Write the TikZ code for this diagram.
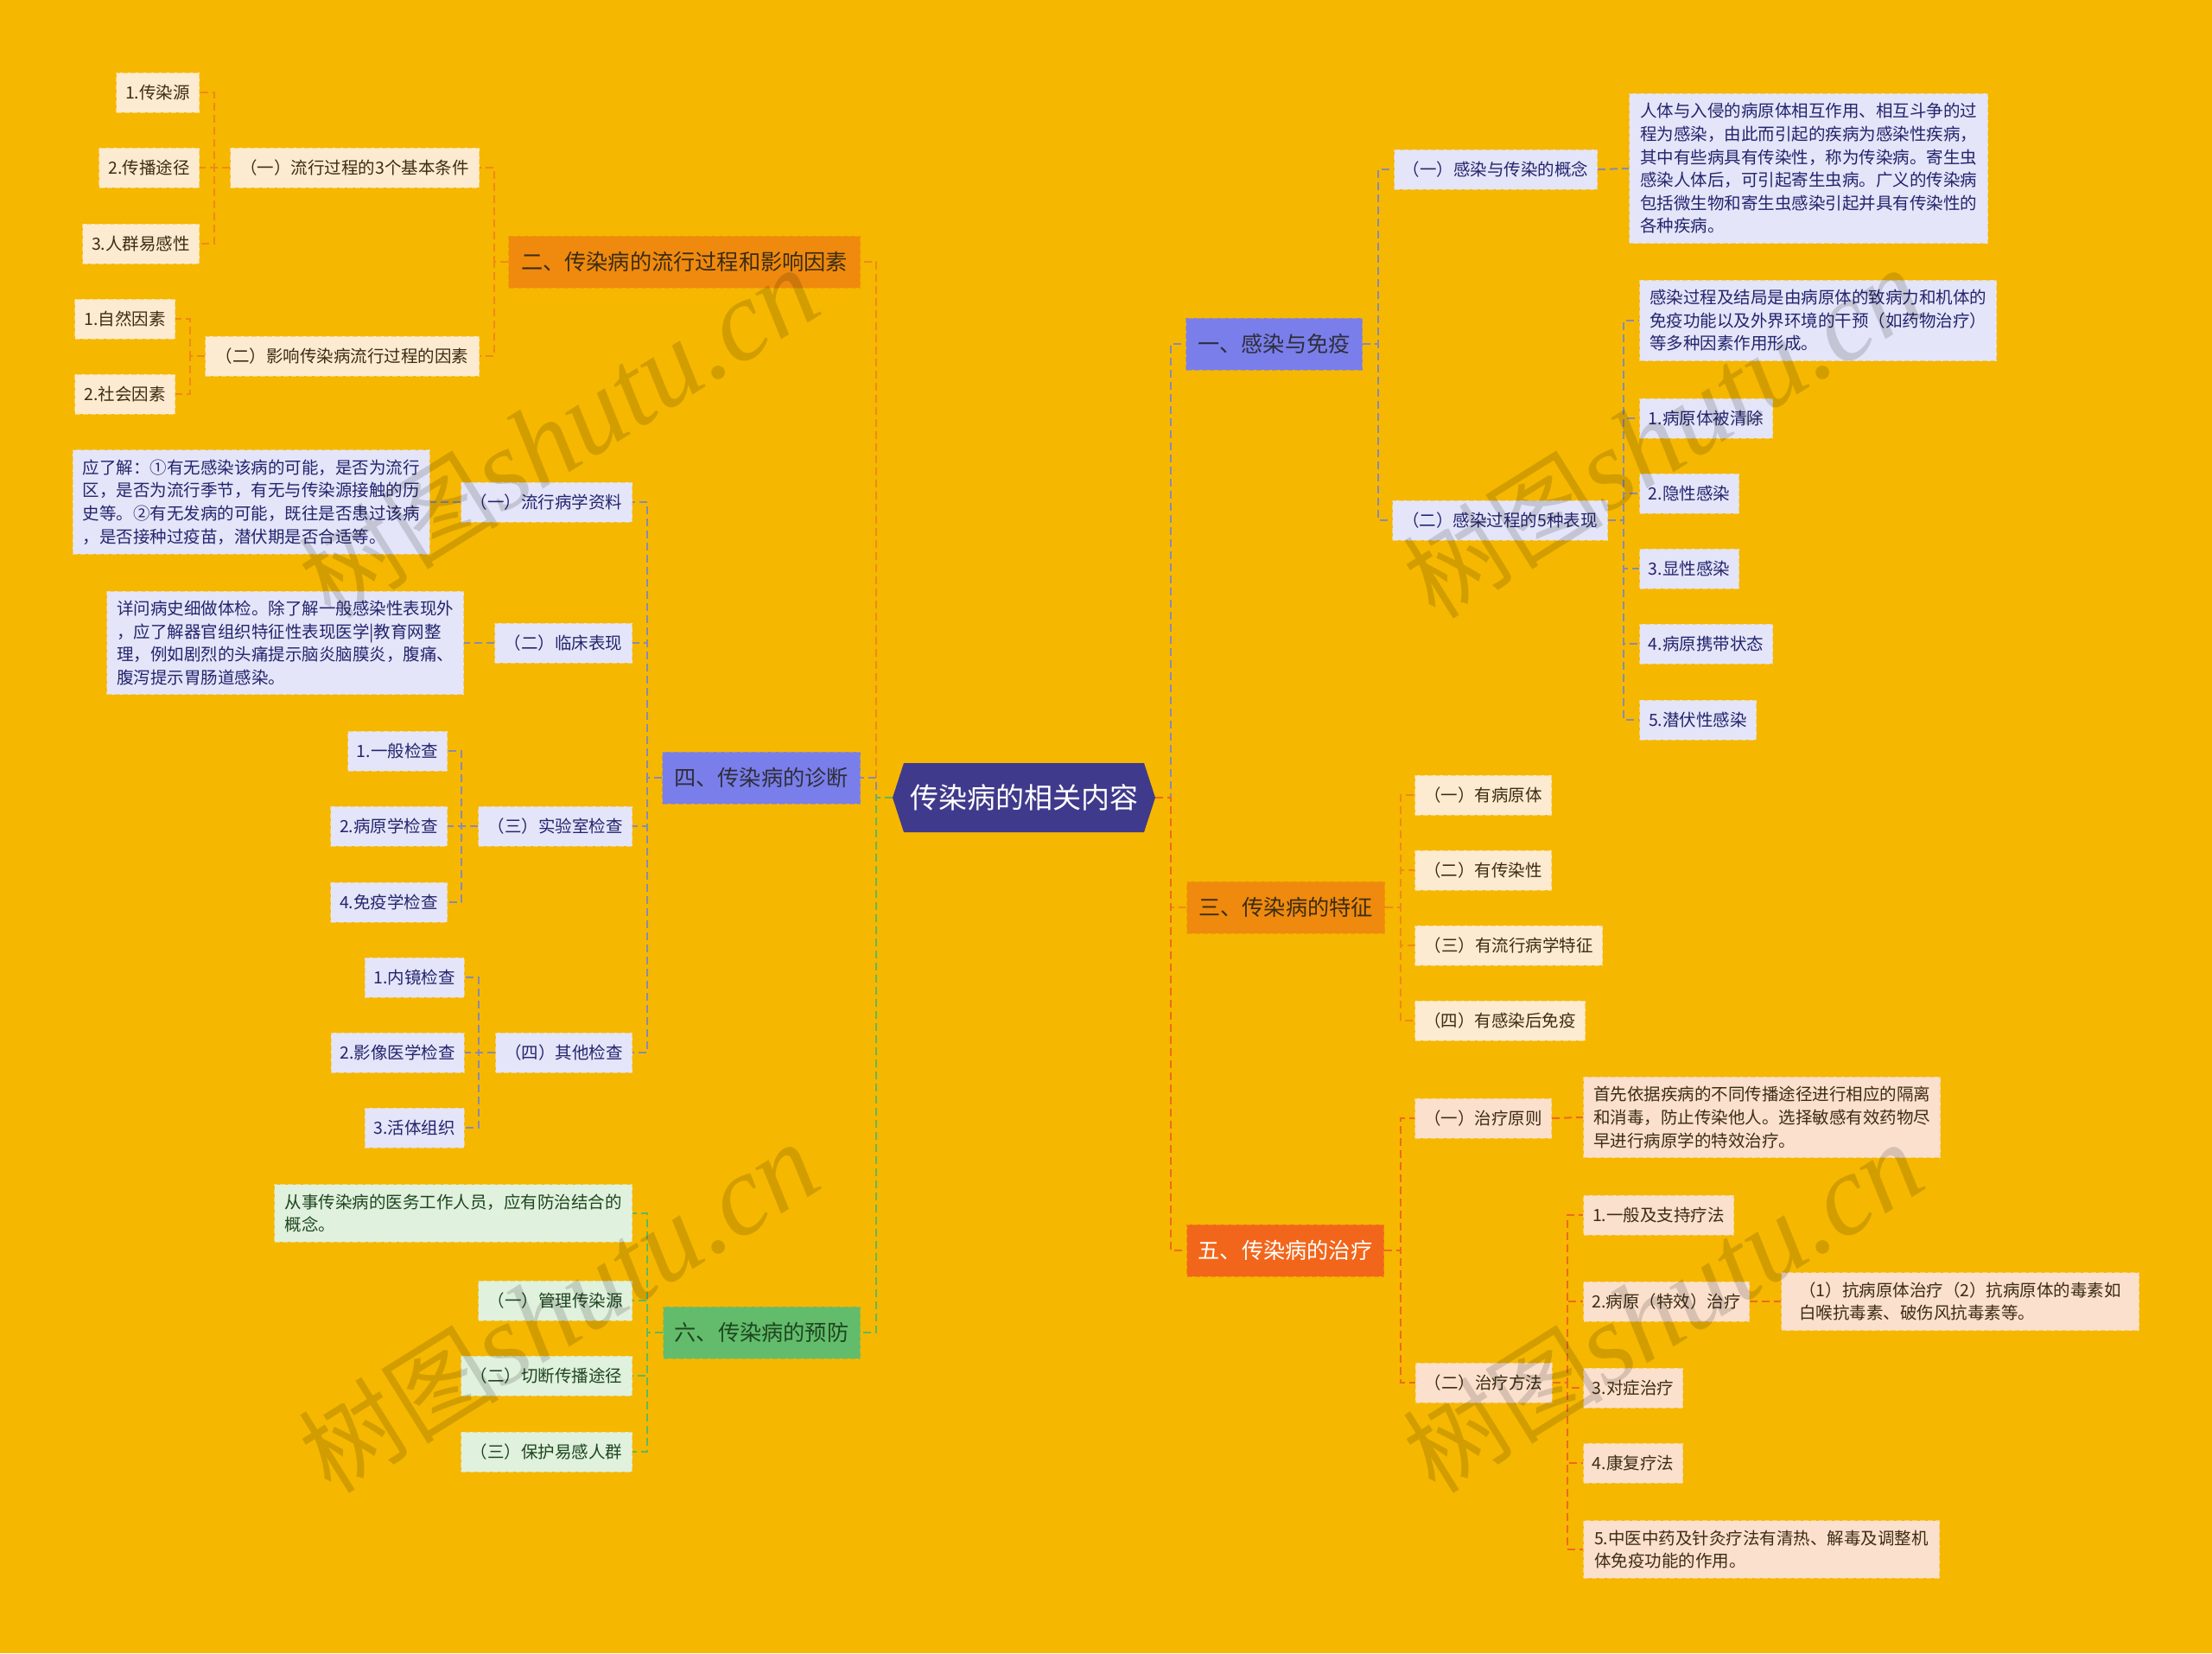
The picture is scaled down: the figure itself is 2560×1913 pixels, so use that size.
\documentclass[tikz,border=0pt]{standalone}
\usepackage{fontspec}
\setmainfont{Noto Sans CJK SC}
\newfontfamily\wmlatin{Liberation Serif}
\usetikzlibrary{calc}
\definecolor{bgc}{HTML}{F5B700}
\definecolor{cfill}{HTML}{403A8C}
\definecolor{fMO}{HTML}{EF8A0E}
\definecolor{fMB}{HTML}{7A7EEA}
\definecolor{fMG}{HTML}{63BC6B}
\definecolor{fMR}{HTML}{F2661B}
\definecolor{fO}{HTML}{FCEBD1}
\definecolor{fB}{HTML}{E4E5F8}
\definecolor{fG}{HTML}{E0F1DD}
\definecolor{fR}{HTML}{FBE0CD}
\definecolor{tO}{HTML}{3C2C12}
\definecolor{tB}{HTML}{24246E}
\definecolor{tG}{HTML}{1E4620}
\definecolor{tM}{HTML}{2E2E3A}
\definecolor{lnO}{HTML}{EF8A18}
\definecolor{lnB}{HTML}{8A8AAE}
\definecolor{lnR}{HTML}{EE6A1E}
\definecolor{lnG}{HTML}{62B85C}
\tikzset{
  edgedash/.style={dash pattern=on 3pt off 1.5pt, line width=0.5pt},
  leaf/.style={rectangle, inner xsep=5pt, inner ysep=0pt, minimum height=23pt,
    font=\fontsize{9.75}{13.3}\selectfont, edgedash},
  txtbox/.style={rectangle, inner xsep=5pt, inner ysep=5.5pt, align=left,
    font=\fontsize{9.75}{13.3}\selectfont, edgedash},
  mainbox/.style={rectangle, inner xsep=6.5pt, inner ysep=0pt, minimum height=30pt,
    font=\fontsize{12.6}{15}\selectfont, edgedash},
  famMO/.style={fill=fMO, draw=fMO!55!bgc, text=tO},
  famMB/.style={fill=fMB, draw=fMB!55!bgc, text=tM},
  famMG/.style={fill=fMG, draw=fMG!55!bgc, text=tG},
  famMR/.style={fill=fMR, draw=fMR!55!bgc, text=white},
  famO/.style={fill=fO, draw=fO!55!bgc, text=tO},
  famB/.style={fill=fB, draw=fB!55!bgc, text=tB},
  famG/.style={fill=fG, draw=fG!55!bgc, text=tG},
  famR/.style={fill=fR, draw=fR!55!bgc, text=tO},
  conn/.style={line width=1pt, dash pattern=on 4.5pt off 2.5pt},
  rootbox/.style={rectangle, inner sep=0pt, minimum width=152pt, minimum height=40pt,
    text=white, font=\fontsize{16.5}{18}\selectfont},
  wm/.style={text=black, text opacity=0.14, inner sep=0pt}
}
\begin{document}
\begin{tikzpicture}[x=0.5pt,y=-0.5pt]
\useasboundingbox (0,0) rectangle (2560,1913);
\fill[bgc] (0,0) rectangle (2560,1913);

% root
\fill[cfill] (1033,923) -- (1046,883) -- (1324,883) -- (1337,923) -- (1324,963) -- (1046,963) -- cycle;
\node[rootbox] (root) at (1185,923) {传染病的相关内容};

% main branches
\node[mainbox,famMO,anchor=east,minimum width=203.5pt] (m2) at (996,303) {二、传染病的流行过程和影响因素};
\node[mainbox,famMB,anchor=east,minimum width=114.5pt] (m4) at (996,900) {四、传染病的诊断};
\node[mainbox,famMG,anchor=east,minimum width=114pt] (m6) at (996,1542) {六、传染病的预防};
\node[mainbox,famMB,anchor=west,minimum width=102pt] (m1) at (1372,398) {一、感染与免疫};
\node[mainbox,famMO,anchor=west,minimum width=114.5pt] (m3) at (1373,1050) {三、传染病的特征};
\node[mainbox,famMR,anchor=west,minimum width=114pt] (m5) at (1373,1447) {五、传染病的治疗};

% group 二
\node[leaf,famO,anchor=east,minimum width=144pt] (a1) at (555,194) {（一）流行过程的3个基本条件};
\node[leaf,famO,anchor=east,minimum width=158.5pt] (a2) at (555,412) {（二）影响传染病流行过程的因素};
\node[leaf,famO,anchor=east,minimum width=48pt] (a11) at (231,107) {1.传染源};
\node[leaf,famO,anchor=east,minimum width=58pt] (a12) at (231,194) {2.传播途径};
\node[leaf,famO,anchor=east,minimum width=67.5pt] (a13) at (231,282) {3.人群易感性};
\node[leaf,famO,anchor=east,minimum width=58pt] (a21) at (203,369) {1.自然因素};
\node[leaf,famO,anchor=east,minimum width=58pt] (a22) at (203,456) {2.社会因素};

% group 四
\node[leaf,famB,anchor=east,minimum width=99pt] (b1) at (732,581) {（一）流行病学资料};
\node[txtbox,famB,anchor=east,minimum width=206.5pt] (b1t) at (497.5,581) {应了解：①有无感染该病的可能，是否为流行\\区，是否为流行季节，有无与传染源接触的历\\史等。②有无发病的可能，既往是否患过该病\\，是否接种过疫苗，潜伏期是否合适等。};
\node[leaf,famB,anchor=east,minimum width=79.5pt] (b2) at (732,744) {（二）临床表现};
\node[txtbox,famB,anchor=east,minimum width=206.5pt] (b2t) at (537,744) {详问病史细做体检。除了解一般感染性表现外\\，应了解器官组织特征性表现医学|教育网整\\理，例如剧烈的头痛提示脑炎脑膜炎，腹痛、\\腹泻提示胃肠道感染。};
\node[leaf,famB,anchor=east,minimum width=89pt] (b3) at (732,956) {（三）实验室检查};
\node[leaf,famB,anchor=east,minimum width=57.5pt] (b31) at (518,869) {1.一般检查};
\node[leaf,famB,anchor=east,minimum width=67.5pt] (b32) at (518,956) {2.病原学检查};
\node[leaf,famB,anchor=east,minimum width=67.5pt] (b34) at (518,1044) {4.免疫学检查};
\node[leaf,famB,anchor=east,minimum width=79pt] (b4) at (732,1218) {（四）其他检查};
\node[leaf,famB,anchor=east,minimum width=57.5pt] (b41) at (537.5,1131) {1.内镜检查};
\node[leaf,famB,anchor=east,minimum width=77pt] (b42) at (537.5,1218) {2.影像医学检查};
\node[leaf,famB,anchor=east,minimum width=57.5pt] (b43) at (537.5,1305) {3.活体组织};

% group 六
\node[txtbox,famG,anchor=east,minimum width=207pt] (c0) at (732,1404) {从事传染病的医务工作人员，应有防治结合的\\概念。};
\node[leaf,famG,anchor=east,minimum width=89pt] (c1) at (732,1505) {（一）管理传染源};
\node[leaf,famG,anchor=east,minimum width=99pt] (c2) at (732,1592) {（二）切断传播途径};
\node[leaf,famG,anchor=east,minimum width=99pt] (c3) at (732,1680) {（三）保护易感人群};

% group 一
\node[leaf,famB,anchor=west,minimum width=117.5pt] (d1) at (1613,196) {（一）感染与传染的概念};
\node[txtbox,famB,anchor=west,minimum width=207.5pt] (d1t) at (1885,195) {人体与入侵的病原体相互作用、相互斗争的过\\程为感染，由此而引起的疾病为感染性疾病，\\其中有些病具有传染性，称为传染病。寄生虫\\感染人体后，可引起寄生虫病。广义的传染病\\包括微生物和寄生虫感染引起并具有传染性的\\各种疾病。};
\node[leaf,famB,anchor=west,minimum width=124.5pt] (d2) at (1611,602) {（二）感染过程的5种表现};
\node[txtbox,famB,anchor=west,minimum width=206.5pt] (d2t) at (1897,371) {感染过程及结局是由病原体的致病力和机体的\\免疫功能以及外界环境的干预（如药物治疗）\\等多种因素作用形成。};
\node[leaf,famB,anchor=west,minimum width=77pt] (d21) at (1897,484) {1.病原体被清除};
\node[leaf,famB,anchor=west,minimum width=57.5pt] (d22) at (1897,571) {2.隐性感染};
\node[leaf,famB,anchor=west,minimum width=57.5pt] (d23) at (1897,658) {3.显性感染};
\node[leaf,famB,anchor=west,minimum width=77pt] (d24) at (1897,745) {4.病原携带状态};
\node[leaf,famB,anchor=west,minimum width=67.5pt] (d25) at (1897,833) {5.潜伏性感染};

% group 三
\node[leaf,famO,anchor=west,minimum width=79pt] (e1) at (1637,920) {（一）有病原体};
\node[leaf,famO,anchor=west,minimum width=79pt] (e2) at (1637,1007) {（二）有传染性};
\node[leaf,famO,anchor=west,minimum width=108.5pt] (e3) at (1637,1094) {（三）有流行病学特征};
\node[leaf,famO,anchor=west,minimum width=98.5pt] (e4) at (1637,1181) {（四）有感染后免疫};

% group 五
\node[leaf,famR,anchor=west,minimum width=79pt] (f1) at (1637,1294) {（一）治疗原则};
\node[txtbox,famR,anchor=west,minimum width=206.5pt] (f1t) at (1832,1293) {首先依据疾病的不同传播途径进行相应的隔离\\和消毒，防止传染他人。选择敏感有效药物尽\\早进行病原学的特效治疗。};
\node[leaf,famR,anchor=west,minimum width=79pt] (f2) at (1637.5,1600) {（二）治疗方法};
\node[leaf,famR,anchor=west,minimum width=87pt] (f21) at (1832,1406) {1.一般及支持疗法};
\node[leaf,famR,anchor=west,minimum width=96pt] (f22) at (1832,1506) {2.病原（特效）治疗};
\node[txtbox,famR,anchor=west,minimum width=207pt] (f22t) at (2061,1506) {（1）抗病原体治疗（2）抗病原体的毒素如\\白喉抗毒素、破伤风抗毒素等。};
\node[leaf,famR,anchor=west,minimum width=57.5pt] (f23) at (1832,1606) {3.对症治疗};
\node[leaf,famR,anchor=west,minimum width=57.5pt] (f24) at (1832,1693) {4.康复疗法};
\node[txtbox,famR,anchor=west,minimum width=206pt] (f25) at (1832,1793) {5.中医中药及针灸疗法有清热、解毒及调整机\\体免疫功能的作用。};

% connectors: root to main
\draw[conn,lnO] (root.west) -- ++(-19,0) |- (m2.east);
\draw[conn,lnB] (root.west) -- ++(-19,0) |- (m4.east);
\draw[conn,lnG] (root.west) -- ++(-19,0) |- (m6.east);
\draw[conn,lnB] (root.east) -- ++(18,0) |- (m1.west);
\draw[conn,lnO] (root.east) -- ++(18,0) |- (m3.west);
\draw[conn,lnR] (root.east) -- ++(18,0) |- (m5.west);

% group 二
\foreach \c in {a1,a2} \draw[conn,lnO] (m2.west) -- ++(-16,0) |- (\c.east);
\foreach \c in {a11,a12,a13} \draw[conn,lnO] (a1.west) -- ++(-18,0) |- (\c.east);
\foreach \c in {a21,a22} \draw[conn,lnO] (a2.west) -- ++(-17,0) |- (\c.east);

% group 四
\foreach \c in {b1,b2,b3,b4} \draw[conn,lnB] (m4.west) -- ++(-17,0) |- (\c.east);
\draw[conn,lnB] (b1.west) -- (b1t.east);
\draw[conn,lnB] (b2.west) -- (b2t.east);
\foreach \c in {b31,b32,b34} \draw[conn,lnB] (b3.west) -- ++(-19,0) |- (\c.east);
\foreach \c in {b41,b42,b43} \draw[conn,lnB] (b4.west) -- ++(-19,0) |- (\c.east);

% group 六
\foreach \c in {c0,c1,c2,c3} \draw[conn,lnG] (m6.west) -- ++(-18,0) |- (\c.east);

% group 一
\foreach \c in {d1,d2} \draw[conn,lnB] (m1.east) -- ++(18,0) |- (\c.west);
\draw[conn,lnB] (d1.east) -- (d1t.west);
\foreach \c in {d2t,d21,d22,d23,d24,d25} \draw[conn,lnB] (d2.east) -- ++(18,0) |- (\c.west);

% group 三
\foreach \c in {e1,e2,e3,e4} \draw[conn,lnO] (m3.east) -- ++(18,0) |- (\c.west);

% group 五
\foreach \c in {f1,f2} \draw[conn,lnR] (m5.east) -- ++(19,0) |- (\c.west);
\draw[conn,lnR] (f1.east) -- (f1t.west);
\foreach \c in {f21,f22,f23,f24,f25} \draw[conn,lnR] (f2.east) -- ++(17,0) |- (\c.west);
\draw[conn,lnR] (f22.east) -- (f22t.west);

% watermarks
\foreach \p/\q [count=\i] in {647/502,647/1514,1925/502,1925/1514}
  \node[wm,rotate=32] (wm\i) at (\p,\q) {{\fontsize{58}{60}\selectfont 树图}{\wmlatin\itshape\fontsize{66}{66}\selectfont shutu.cn}};
\end{tikzpicture}
\end{document}
